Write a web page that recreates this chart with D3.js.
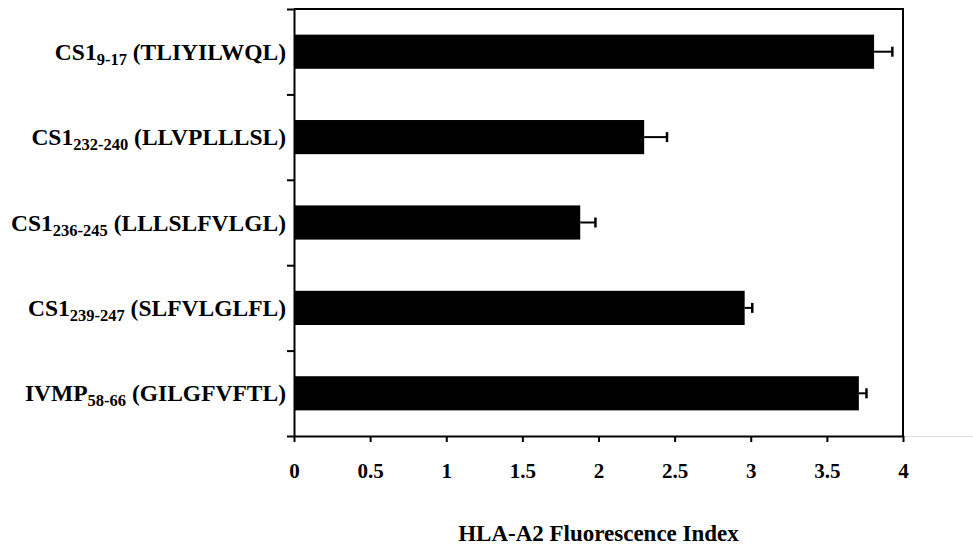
<!DOCTYPE html>
<html>
<head>
<meta charset="utf-8">
<script src="https://cdn.jsdelivr.net/npm/d3@7"></script>
<style>
  body { margin: 0; background: #fff; }
  text { font-family: "Liberation Serif", "Times New Roman", serif; font-weight: bold; fill: #000; }
</style>
</head>
<body>
<div id="chart"></div>
<script>
// data
var prefixes = ["CS1", "CS1", "CS1", "CS1", "IVMP"];
var subs = ["9-17", "232-240", "236-245", "239-247", "58-66"];
var peptides = ["(TLIYILWQL)", "(LLVPLLLSL)", "(LLLSLFVLGL)", "(SLFVLGLFL)", "(GILGFVFTL)"];
var values = [3.81, 2.30, 1.88, 2.96, 3.71];
var errors = [0.12, 0.15, 0.10, 0.05, 0.05];
var xTicks = [0, 0.5, 1, 1.5, 2, 2.5, 3, 3.5, 4];

var W = 973, H = 550;
var margin = {top: 9, right: 70, bottom: 114, left: 294},
    width = W - margin.left - margin.right,
    height = H - margin.top - margin.bottom;

var svg = d3.select("#chart")
  .append("svg")
    .attr("width", W)
    .attr("height", H)
  .append("g")
    .attr("transform", "translate(" + margin.left + "," + margin.top + ")");

var idx = d3.range(values.length);

var x = d3.scaleLinear()
  .domain([0, 4])
  .range([0, width]);

var y = d3.scaleBand()
  .domain(idx)
  .range([0, height])
  .paddingInner(0.6)
  .paddingOuter(0.3);

// light grey continuation of the baseline to the page edge
svg.append("line")
  .attr("x1", width).attr("x2", W - margin.left)
  .attr("y1", height + 0.5).attr("y2", height + 0.5)
  .attr("stroke", "#ddd").attr("stroke-width", 1);

// top and right frame
svg.append("path")
  .attr("d", "M0,0H" + width + "V" + height)
  .attr("fill", "none")
  .attr("stroke", "#000")
  .attr("stroke-width", 2);

// bars
svg.selectAll(".bar")
  .data(idx)
  .enter()
  .append("rect")
    .attr("class", "bar")
    .attr("x", 0)
    .attr("y", function(i) { return y(i); })
    .attr("width", function(i) { return x(values[i]); })
    .attr("height", y.bandwidth())
    .attr("fill", "#000");

// error bars
var err = svg.selectAll(".err")
  .data(idx)
  .enter()
  .append("g")
    .attr("class", "err");
err.append("line")
  .attr("x1", function(i) { return x(values[i]); })
  .attr("x2", function(i) { return x(values[i] + errors[i]); })
  .attr("y1", function(i) { return y(i) + y.bandwidth() / 2; })
  .attr("y2", function(i) { return y(i) + y.bandwidth() / 2; })
  .attr("stroke", "#000")
  .attr("stroke-width", 2);
err.append("line")
  .attr("x1", function(i) { return x(values[i] + errors[i]); })
  .attr("x2", function(i) { return x(values[i] + errors[i]); })
  .attr("y1", function(i) { return y(i) + y.bandwidth() / 2 - 5; })
  .attr("y2", function(i) { return y(i) + y.bandwidth() / 2 + 5; })
  .attr("stroke", "#000")
  .attr("stroke-width", 2.5);

// X axis
var xAxis = svg.append("g")
  .attr("transform", "translate(0," + height + ")")
  .call(d3.axisBottom(x).tickValues(xTicks).tickSize(6).tickSizeOuter(0)
    .tickFormat(function(d) { return d; }));
xAxis.select(".domain").attr("stroke-width", 2);
xAxis.selectAll(".tick line").attr("stroke-width", 2);
xAxis.selectAll(".tick text")
  .attr("y", 27)
  .attr("dy", "0.71em")
  .style("font-size", "21px")
  .style("font-family", "'Liberation Serif', 'Times New Roman', serif")
  .style("font-weight", "bold");

// Y axis: ticks at the category boundaries
var yEdge = d3.scaleLinear().domain([0, values.length]).range([0, height]);
var yAxis = svg.append("g")
  .call(d3.axisLeft(yEdge).ticks(values.length).tickSize(7).tickSizeOuter(0).tickFormat(""));
yAxis.select(".domain").attr("stroke-width", 2);
yAxis.selectAll(".tick line").attr("stroke-width", 2);

// category labels with subscripts
var labels = svg.selectAll(".lab")
  .data(idx)
  .enter()
  .append("text")
    .attr("class", "lab")
    .attr("x", -8)
    .attr("y", function(i) { return y(i) + y.bandwidth() / 2 + 8; })
    .attr("text-anchor", "end")
    .style("font-size", "23.5px");
labels.append("tspan").text(function(i) { return prefixes[i]; });
labels.append("tspan")
  .attr("dy", 5)
  .style("font-size", "16.5px")
  .text(function(i) { return subs[i]; });
labels.append("tspan")
  .attr("dy", -5)
  .text(function(i) { return " " + peptides[i]; });

// axis title
svg.append("text")
  .attr("x", width / 2)
  .attr("y", 541 - margin.top)
  .attr("text-anchor", "middle")
  .style("font-size", "23px")
  .text("HLA-A2 Fluorescence Index");
</script>
</body>
</html>
